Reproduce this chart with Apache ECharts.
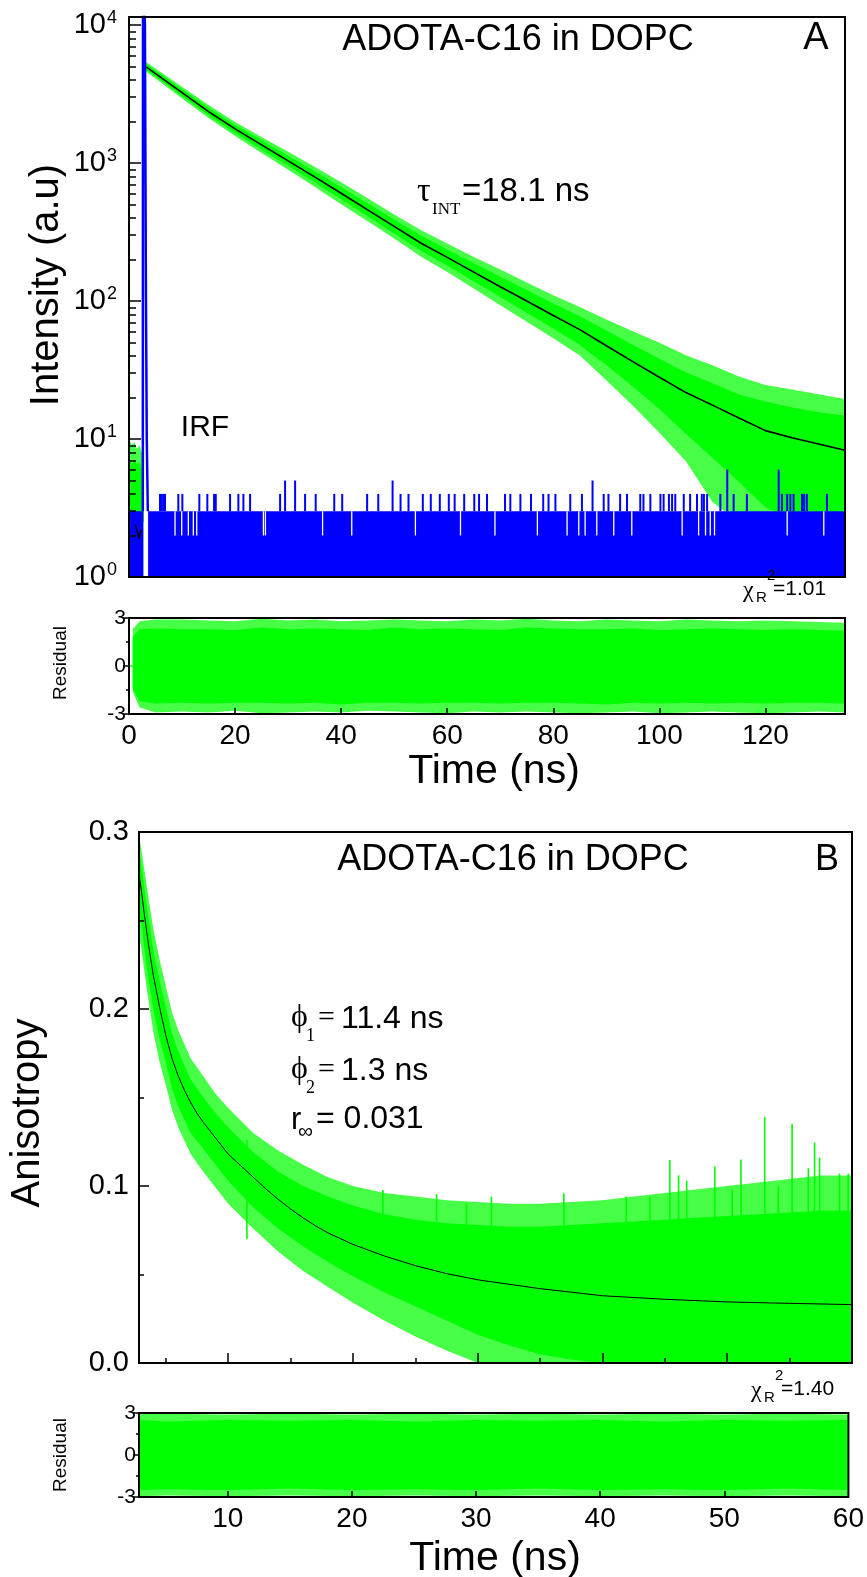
<!DOCTYPE html>
<html><head><meta charset="utf-8">
<script src="https://cdn.jsdelivr.net/npm/echarts@6/dist/echarts.min.js"></script>
<style>html,body{margin:0;padding:0;background:#fff}#c{width:867px;height:1577px}</style>
</head><body><div id="c"></div>
<script>
// ---------- Panel A : fluorescence decay (log intensity) ----------
const decayT       = [2.95, 3.3, 5, 10, 15, 20, 25, 30, 35, 40, 45, 50, 55, 60, 65, 70, 75, 80, 85, 90, 95, 100, 105, 110, 115, 120, 125, 130, 135];
const decayOuterHi = [5300, 5383, 4831, 3573, 2630, 1986, 1545, 1205, 938, 726, 555, 424, 327, 261, 208, 169, 136, 110, 90.6, 73.5, 60.4, 49.8, 40.5, 34.3, 28.4, 24.6, 22.8, 21.1, 19.5];
const decayCoreHi  = [5150, 5212, 4677, 3428, 2512, 1888, 1459, 1127, 871, 667, 511, 390, 298, 236, 188, 150, 120, 96, 77.6, 61.1, 48, 38.2, 30.3, 25.4, 21, 18.7, 16.9, 15.6, 14.8];
const decayCoreLo  = [4750, 4710, 4227, 3055, 2218, 1652, 1253, 955, 724, 547, 411, 308, 232, 181, 139, 107, 82.2, 63.1, 47.9, 34.4, 24, 16.5, 10.9, 7.3, 4.9, 3.2, 2.6, 2.5, 2.5];
const decayOuterLo = [4600, 4560, 4093, 2931, 2118, 1570, 1183, 893, 673, 502, 378, 284, 210, 162, 123, 93, 70.8, 53.7, 40.3, 26.7, 17.4, 11.1, 6.9, 3.5, 2.5, 2.5, 2.5, 2.5, 2.5];

const preT       = [0.1, 0.5, 1.0, 1.5, 2.0, 2.4, 2.75];
const preOuterHi = [10, 9, 9.5, 8.5, 9, 8, 6];
const preCoreHi  = [7, 6.5, 7, 6.5, 6.8, 6, 4.5];
const preLo      = [2.5, 2.5, 2.5, 2.5, 2.5, 2.5, 2.5];

const fitAT = [3.3, 5, 10, 15, 20, 25, 30, 35, 40, 45, 50, 55, 60, 65, 70, 75, 80, 85, 90, 95, 100, 105, 110, 115, 120, 125, 130, 135];
const fitAV = [4960, 4450, 3240, 2360, 1767, 1353, 1037, 794, 604, 458, 347, 263, 207, 162, 127, 100, 78.5, 62, 47.4, 36.4, 28, 21.7, 17.6, 14.2, 11.5, 10.2, 9.2, 8.3];
const fitPreT = [1.2, 1.9, 2.25];
const fitPreV = [2.4, 1.9, 2.2];

// IRF (blue)
const irfPeakT = [2.6, 2.64, 2.95, 3.0, 3.2, 3.35, 3.55];
const irfPeakV = [3, 30000, 30000, 10000, 100, 10, 3];
const irfBaseStart = [0, 3.6];
const irfBaseEnd   = [2.72, 135];
const irfBaseLevel = 3;
const irfSpikeT = [5.85, 6.17, 6.47, 6.79, 9.30, 10.06, 13.26, 14.77, 16.04, 16.36, 19.06, 20.62, 21.57, 22.83, 28.49, 29.43, 31.32,
  33.2, 35.2, 38.7, 40.2, 44.9, 47.0, 49.7, 51.2, 52.7, 55.4, 56.9, 58.6, 60.3, 61.4, 63.2, 65.1, 66.0, 67.5, 70.9, 71.9, 73.8, 75.8, 78.1, 79.1, 80.4,
  83.2, 85.4, 87.4, 89.5, 90.4, 92.6, 93.9, 96.4, 97.0, 98.3, 100.2, 100.8, 101.8, 102.4, 103.0, 104.6, 105.8, 107.1, 108.0, 108.4, 109.0, 111.5,
  112.8, 114.0, 116.5, 122.5, 123.1, 124.1, 124.7, 125.3, 126.9, 127.3, 127.8, 131.6];
const irfSpikeV = [4, 4, 4, 4, 4, 4, 4, 4, 4, 4, 4, 4, 4, 4, 4, 5, 5,
  4, 4, 4, 4, 4, 4, 5, 4, 4, 4, 4, 4, 4, 4, 4, 4, 4, 4, 4, 4, 4, 4, 4, 4, 4,
  4, 4, 5, 4, 4, 4, 4, 4, 4, 4, 4, 4, 4, 4, 4, 4, 4, 4, 4, 4, 4, 4,
  6, 4, 4, 6, 4, 4, 4, 4, 4, 4, 4, 4];
const irfDipT = [8.68, 9.94, 11.19, 12.13, 12.77, 25.34, 25.72, 36.5, 42.0, 54.0, 62.5, 69.0, 77.0, 82.6, 84.8, 86.0, 88.2, 91.4, 94.8,
  104.3, 107.4, 108.7, 109.6, 110.4, 124.1, 131.0];

// Panel A residuals
const resAT      = [0.7, 2, 5, 10, 15, 20, 25, 30, 35, 40, 45, 50, 55, 60, 65, 70, 75, 80, 85, 90, 95, 100, 105, 110, 115, 120, 125, 130, 135];
const resAOutHi  = [2.3, 2.8, 2.9, 2.9, 2.85, 2.8, 2.95, 2.85, 2.9, 2.8, 2.85, 2.9, 2.85, 2.8, 2.9, 2.85, 2.95, 2.85, 2.8, 2.9, 2.85, 2.8, 2.9, 2.85, 2.8, 2.85, 2.8, 2.75, 2.7];
const resACoreHi = [1.8, 2.3, 2.35, 2.3, 2.3, 2.25, 2.4, 2.3, 2.35, 2.3, 2.25, 2.4, 2.3, 2.35, 2.3, 2.25, 2.4, 2.35, 2.3, 2.3, 2.35, 2.25, 2.3, 2.35, 2.3, 2.25, 2.3, 2.25, 2.2];
const resACoreLo = [-1.4, -2.2, -2.35, -2.3, -2.35, -2.3, -2.3, -2.35, -2.3, -2.4, -2.3, -2.3, -2.35, -2.3, -2.3, -2.35, -2.3, -2.3, -2.35, -2.4, -2.3, -2.35, -2.3, -2.35, -2.3, -2.35, -2.3, -2.3, -2.35];
const resAOutLo  = [-1.6, -2.6, -2.9, -2.85, -2.9, -2.8, -2.95, -2.9, -2.85, -2.9, -2.8, -2.85, -2.9, -2.95, -2.85, -2.9, -2.85, -2.9, -2.95, -2.9, -2.85, -2.95, -2.9, -2.85, -2.9, -2.95, -2.9, -2.85, -2.9];
const resAZeroT = [0, 0.7];
const resAZeroV = [0, 0];

// ---------- Panel B : anisotropy ----------
const anisoT       = [2.85, 3, 3.5, 4, 4.5, 5, 5.5, 6, 7, 8, 9, 10, 12, 14, 16, 18, 20, 22.5, 25, 27.5, 30, 32.5, 35, 37.5, 40, 42.5, 45, 47.5, 50, 52.5, 55, 57.5, 60];
const anisoOuterHi = [0.297, 0.292, 0.268, 0.245, 0.228, 0.213, 0.198, 0.188, 0.172, 0.162, 0.152, 0.144, 0.13, 0.12, 0.112, 0.105, 0.1, 0.096, 0.094, 0.092, 0.091, 0.09, 0.09, 0.091, 0.092, 0.094, 0.096, 0.098, 0.1, 0.102, 0.104, 0.106, 0.106];
const anisoCoreHi  = [0.29, 0.283, 0.257, 0.233, 0.216, 0.201, 0.186, 0.176, 0.16, 0.15, 0.141, 0.133, 0.119, 0.108, 0.1, 0.094, 0.089, 0.084, 0.081, 0.079, 0.078, 0.077, 0.077, 0.078, 0.079, 0.08, 0.081, 0.082, 0.083, 0.084, 0.085, 0.086, 0.086];
const anisoCoreLo  = [0.255, 0.25, 0.222, 0.2, 0.183, 0.17, 0.155, 0.145, 0.13, 0.121, 0.112, 0.103, 0.088, 0.076, 0.066, 0.057, 0.049, 0.04, 0.032, 0.024, 0.016, 0.01, 0.005, 0.002, 0, 0, 0, 0, 0, 0, 0, 0, 0];
const anisoOuterLo = [0.24, 0.236, 0.21, 0.187, 0.17, 0.157, 0.143, 0.133, 0.118, 0.108, 0.099, 0.09, 0.076, 0.063, 0.052, 0.043, 0.034, 0.024, 0.015, 0.007, 0, 0, 0, 0, 0, 0, 0, 0, 0, 0, 0, 0, 0];
const anisoSpikeT  = [11.5, 22.4, 26.7, 29.1, 31.1, 36.9, 41.9, 43.8, 45.4, 46.1, 46.75, 49.0, 50.4, 51.1, 53.0, 54.1, 55.2, 56.5, 57.0, 57.4, 59.0, 59.7];
const anisoSpikeV  = [0.126, 0.0977, 0.0955, 0.09, 0.094, 0.0959, 0.094, 0.094, 0.1147, 0.106, 0.103, 0.111, 0.098, 0.115, 0.139, 0.100, 0.135, 0.110, 0.1245, 0.116, 0.107, 0.107];
// fitted anisotropy curve (black)
const anisoFitT = [2.85, 3, 3.25, 3.5, 3.75, 4, 4.5, 5, 5.5, 6, 6.5, 7, 7.5, 8, 9, 10, 11, 12, 13, 14, 15, 16, 17, 18, 20, 22.5, 25, 27.5, 30, 32.5, 35, 37.5, 40, 45, 50, 55, 60];
const anisoFitV = [0.276, 0.269, 0.255, 0.242, 0.230, 0.219, 0.201, 0.185, 0.172, 0.162, 0.154, 0.147, 0.141, 0.136, 0.127, 0.118, 0.1115, 0.105, 0.0985, 0.0925, 0.087, 0.082, 0.0775, 0.0735, 0.067, 0.0605, 0.055, 0.0505, 0.047, 0.0445, 0.042, 0.040, 0.038, 0.036, 0.0345, 0.0337, 0.033];

const resBT      = [2.85, 5, 10, 15, 20, 25, 30, 35, 40, 45, 50, 55, 60];
const resBOutHi  = [2.95, 2.95, 2.9, 2.95, 2.9, 2.95, 2.9, 2.95, 2.9, 2.95, 2.9, 2.95, 2.9];
const resBCoreHi = [2.5, 2.4, 2.5, 2.45, 2.5, 2.4, 2.5, 2.45, 2.5, 2.4, 2.5, 2.45, 2.5];
const resBCoreLo = [-2.5, -2.45, -2.5, -2.4, -2.5, -2.45, -2.5, -2.4, -2.5, -2.45, -2.5, -2.4, -2.5];
const resBOutLo  = [-2.95, -2.9, -2.95, -2.9, -2.95, -2.9, -2.95, -2.9, -2.95, -2.9, -2.95, -2.9, -2.95];

// tick values
const logMajor = [1, 10, 100, 1000, 10000];
const logMinor = [2,3,4,5,6,7,8,9,20,30,40,50,60,70,80,90,200,300,400,500,600,700,800,900,2000,3000,4000,5000,6000,7000,8000,9000];
const timeATicks = [0, 20, 40, 60, 80, 100, 120];
const timeBLabels = [10, 20, 30, 40, 50, 60];
const timeBMajor = [10, 20, 30, 40, 50];
const timeBMinor = [5, 15, 25, 35, 45, 55];
const resTicks = [-3, 0, 3];
const resMinor = [-1.5, 1.5];
const anisoLabels = [0, 0.1, 0.2, 0.3];
const anisoMajor = [0.1, 0.2];
const anisoMinor = [0.05, 0.15, 0.25];

// ---------- helpers ----------
const F = "'Liberation Sans', Arial, sans-serif";
const FS = "'Liberation Serif', 'Times New Roman', serif";
const GREEN = '#00ff00', FRINGE = 'rgba(0,255,0,0.72)', BLUE = '#0000ff';

function zip(a, b) { return a.map((v, i) => [v, b[i]]); }

function band(xi, yi, ts, hi, lo, color, z) {
  return {
    type: 'custom', xAxisIndex: xi, yAxisIndex: yi, z: z, silent: true, clip: true,
    data: [[ts[0], hi[0]]],
    renderItem: function (params, api) {
      const pts = [];
      for (let i = 0; i < ts.length; i++) pts.push(api.coord([ts[i], hi[i]]));
      for (let j = ts.length - 1; j >= 0; j--) pts.push(api.coord([ts[j], lo[j]]));
      return { type: 'polygon', shape: { points: pts }, style: { fill: color } };
    }
  };
}
function vlines(xi, yi, ts, v0s, v1s, color, width, z) {
  return {
    type: 'custom', xAxisIndex: xi, yAxisIndex: yi, z: z, silent: true, clip: true,
    data: ts.map((t, i) => [t, Array.isArray(v0s) ? v0s[i] : v0s, Array.isArray(v1s) ? v1s[i] : v1s]),
    encode: { x: 0, y: [1, 2] },
    renderItem: function (params, api) {
      const p0 = api.coord([api.value(0), api.value(1)]);
      const p1 = api.coord([api.value(0), api.value(2)]);
      return { type: 'line', shape: { x1: p0[0], y1: p0[1], x2: p1[0], y2: p1[1] }, style: { stroke: color, lineWidth: width } };
    }
  };
}
function rects(xi, yi, t0s, t1s, top, bottom, color, z) {
  return {
    type: 'custom', xAxisIndex: xi, yAxisIndex: yi, z: z, silent: true, clip: true,
    data: t0s.map((t, i) => [t, t1s[i], top]),
    renderItem: function (params, api) {
      const a = api.coord([api.value(0), api.value(2)]);
      const b = api.coord([api.value(1), bottom]);
      return { type: 'rect', shape: { x: a[0], y: a[1], width: b[0] - a[0], height: b[1] - a[1] }, style: { fill: color } };
    }
  };
}
function line(xi, yi, ts, vs, color, width, z) {
  return { type: 'line', xAxisIndex: xi, yAxisIndex: yi, z: z, silent: true, showSymbol: false, symbol: 'none',
    clip: true, data: zip(ts, vs), lineStyle: { color: color, width: width } };
}
const noLine = { show: false, onZero: false };
const noSplit = { show: false };
function tickStyle(len, inside, vals) {
  return { show: true, inside: inside, length: len, customValues: vals, lineStyle: { color: '#000', width: 1.5 } };
}

const grids = [
  { left: 129, top: 17, width: 716, height: 560 },
  { left: 129, top: 618, width: 716, height: 96 },
  { left: 139, top: 832, width: 713, height: 531 },
  { left: 139, top: 1413, width: 713, height: 84 }
].map(g => Object.assign(g, { show: true, borderColor: '#000', borderWidth: 2, backgroundColor: 'transparent', z: 10 }));

const xAxis = [
  { gridIndex: 0, type: 'value', position: 'bottom', min: 0, max: 135, axisLine: noLine, axisTick: { show: false }, axisLabel: { show: false }, splitLine: noSplit },
  { gridIndex: 1, type: 'value', position: 'bottom', min: 0, max: 135, axisLine: noLine, z: 10, splitLine: noSplit,
    axisTick: tickStyle(6, true, timeATicks),
    axisLabel: { customValues: timeATicks, fontSize: 28, color: '#000', fontFamily: F, margin: 8 } },
  { gridIndex: 2, type: 'value', position: 'bottom', min: 2.85, max: 60, axisLine: noLine, z: 10, splitLine: noSplit,
    axisTick: tickStyle(10, true, timeBMajor), axisLabel: { show: false } },
  { gridIndex: 2, type: 'value', position: 'bottom', min: 2.85, max: 60, axisLine: noLine, z: 10, splitLine: noSplit,
    axisTick: tickStyle(5, true, timeBMinor), axisLabel: { show: false } },
  { gridIndex: 3, type: 'value', position: 'bottom', min: 2.85, max: 60, axisLine: noLine, z: 10, splitLine: noSplit,
    axisTick: tickStyle(6, true, timeBMajor),
    axisLabel: { customValues: timeBLabels, fontSize: 28, color: '#000', fontFamily: F, margin: 8 } }
];
const yAxis = [
  { gridIndex: 0, type: 'log', logBase: 10, position: 'left', min: 1, max: 11430, axisLine: noLine, z: 10, splitLine: noSplit,
    axisTick: tickStyle(12, true, logMajor),
    axisLabel: { customValues: logMajor, margin: 12, color: '#000',
      formatter: v => '{b|10}{s|' + Math.round(Math.log10(v)) + '}',
      rich: { b: { fontSize: 29, fontFamily: F, color: '#000' },
              s: { fontSize: 18, fontFamily: F, color: '#000', verticalAlign: 'top', padding: [0, 0, 14, 1] } } } },
  { gridIndex: 0, type: 'log', logBase: 10, position: 'left', min: 1, max: 11430, axisLine: noLine, z: 10, splitLine: noSplit,
    axisTick: tickStyle(7, true, logMinor), axisLabel: { show: false } },
  { gridIndex: 1, type: 'value', position: 'left', min: -3, max: 3, axisLine: noLine, z: 10, splitLine: noSplit,
    axisTick: tickStyle(6, false, resTicks),
    axisLabel: { customValues: resTicks, fontSize: 21, color: '#000', fontFamily: F, margin: 3 } },
  { gridIndex: 1, type: 'value', position: 'left', min: -3, max: 3, axisLine: noLine, z: 10, splitLine: noSplit,
    axisTick: tickStyle(3, false, resMinor), axisLabel: { show: false } },
  { gridIndex: 2, type: 'value', position: 'left', min: 0, max: 0.3, axisLine: noLine, z: 10, splitLine: noSplit,
    axisTick: tickStyle(10, true, anisoMajor),
    axisLabel: { customValues: anisoLabels, fontSize: 29, color: '#000', fontFamily: F, margin: 10, formatter: v => v.toFixed(1) } },
  { gridIndex: 2, type: 'value', position: 'left', min: 0, max: 0.3, axisLine: noLine, z: 10, splitLine: noSplit,
    axisTick: tickStyle(5, true, anisoMinor), axisLabel: { show: false } },
  { gridIndex: 3, type: 'value', position: 'left', min: -3, max: 3, axisLine: noLine, z: 10, splitLine: noSplit,
    axisTick: tickStyle(6, false, resTicks),
    axisLabel: { customValues: resTicks, fontSize: 21, color: '#000', fontFamily: F, margin: 3 } },
  { gridIndex: 3, type: 'value', position: 'left', min: -3, max: 3, axisLine: noLine, z: 10, splitLine: noSplit,
    axisTick: tickStyle(3, false, resMinor), axisLabel: { show: false } }
];

const series = [
  // Panel A
  band(0, 0, preT, preOuterHi, preLo, FRINGE, 1),
  band(0, 0, preT, preCoreHi, preLo, GREEN, 2),
  band(0, 0, decayT, decayOuterHi, decayOuterLo, FRINGE, 1),
  band(0, 0, decayT, decayCoreHi, decayCoreLo, GREEN, 2),
  rects(0, 0, irfBaseStart, irfBaseEnd, irfBaseLevel, 1, BLUE, 3),
  vlines(0, 0, irfSpikeT, irfBaseLevel, irfSpikeV, BLUE, 2, 4),
  vlines(0, 0, irfDipT, 2, irfBaseLevel, '#ffffff', 1.3, 4),
  line(0, 0, irfPeakT, irfPeakV, BLUE, 2.5, 5),
  line(0, 0, fitAT, fitAV, '#000', 1.6, 6),
  line(0, 0, fitPreT, fitPreV, '#000', 1.5, 6),
  // Residual A
  band(1, 2, resAT, resAOutHi, resAOutLo, FRINGE, 1),
  band(1, 2, resAT, resACoreHi, resACoreLo, GREEN, 2),
  line(1, 2, resAZeroT, resAZeroV, GREEN, 1.5, 2),
  // Panel B
  band(2, 4, anisoT, anisoOuterHi, anisoOuterLo, FRINGE, 1),
  band(2, 4, anisoT, anisoCoreHi, anisoCoreLo, GREEN, 2),
  vlines(2, 4, anisoSpikeT, 0.07, anisoSpikeV, GREEN, 1.6, 3),
  line(2, 4, anisoFitT, anisoFitV, '#000', 1, 6),
  // Residual B
  band(4, 6, resBT, resBOutHi, resBOutLo, FRINGE, 1),
  band(4, 6, resBT, resBCoreHi, resBCoreLo, GREEN, 2)
];

function txt(x, y, text, size, family, opts) {
  const o = Object.assign({ align: 'left', rotation: 0 }, opts || {});
  return { type: 'text', x: x, y: y, rotation: o.rotation, z: 100, silent: true,
    style: { text: text, fontSize: size, fontFamily: family, fill: '#000',
      align: o.align, textAlign: o.align, verticalAlign: 'middle', textVerticalAlign: 'middle' } };
}
const graphic = [
  txt(518, 40, 'ADOTA-C16 in DOPC', 36, F, { align: 'center' }),
  txt(816, 39, 'A', 38, F, { align: 'center' }),
  txt(417, 192, 'τ', 34, FS),
  txt(432, 210, 'INT', 17, FS),
  txt(462, 192, '=18.1 ns', 33, F),
  txt(205, 428, 'IRF', 30, F, { align: 'center' }),
  txt(743, 591, 'χ', 24, FS),
  txt(756, 598, 'R', 15, F),
  txt(767, 576, '2', 15, F),
  txt(773, 589, '=1.01', 21, F),
  txt(47, 285, 'Intensity (a.u)', 40, F, { align: 'center', rotation: Math.PI / 2 }),
  txt(61, 663, 'Residual', 19, F, { align: 'center', rotation: Math.PI / 2 }),
  txt(494, 772, 'Time (ns)', 41, F, { align: 'center' }),
  // Panel B
  txt(513, 860, 'ADOTA-C16 in DOPC', 36, F, { align: 'center' }),
  txt(827, 860, 'B', 36, F, { align: 'center' }),
  txt(291, 1018, 'ϕ', 32, FS),
  txt(306, 1036, '1', 18, FS),
  txt(318, 1018, '=', 30, FS),
  txt(341, 1019, '11.4 ns', 32, F),
  txt(291, 1070, 'ϕ', 32, FS),
  txt(306, 1088, '2', 18, FS),
  txt(318, 1070, '=', 30, FS),
  txt(341, 1071, '1.3 ns', 32, F),
  txt(291, 1120, 'r', 31, F),
  txt(298, 1132, '∞', 21, F),
  txt(316, 1119, '= 0.031', 32, F),
  txt(751, 1391, 'χ', 24, FS),
  txt(764, 1398, 'R', 15, F),
  txt(775, 1376, '2', 15, F),
  txt(781, 1389, '=1.40', 21, F),
  txt(28, 1113, 'Anisotropy', 40, F, { align: 'center', rotation: Math.PI / 2 }),
  txt(61, 1455, 'Residual', 19, F, { align: 'center', rotation: Math.PI / 2 }),
  txt(495, 1559, 'Time (ns)', 41, F, { align: 'center' })
];

const chart = echarts.init(document.getElementById('c'), null, { renderer: 'canvas' });
chart.setOption({ animation: false, backgroundColor: '#fff', grid: grids, xAxis: xAxis, yAxis: yAxis, series: series, graphic: graphic });
</script></body></html>
